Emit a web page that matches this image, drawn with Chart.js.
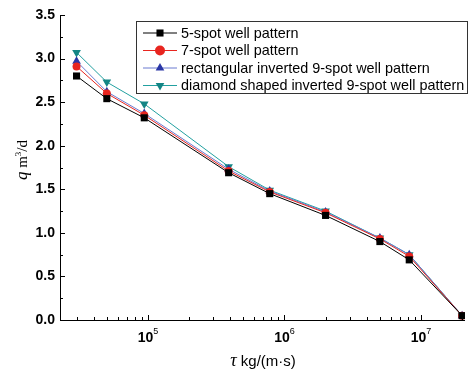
<!DOCTYPE html>
<html>
<head>
<meta charset="utf-8">
<script src="https://cdn.jsdelivr.net/npm/chart.js@4.4.1/dist/chart.umd.min.js"></script>
<style>
  html, body { margin: 0; padding: 0; background: #fff; }
  #wrap { width: 470px; height: 377px; position: relative; }
</style>
</head>
<body>
<div id="wrap"><canvas id="c" width="470" height="377"></canvas></div>
<script>
// data
const tau = [3.0e4, 5.0e4, 9.4e4, 3.9e5, 7.8e5, 2.0e6, 5.0e6, 8.2e6, 2.0e7];
const fiveSpot = [2.80, 2.54, 2.32, 1.69, 1.45, 1.20, 0.90, 0.69, 0.05];
const sevenSpot = [2.91, 2.60, 2.35, 1.71, 1.47, 1.23, 0.93, 0.73, 0.05];
const rectNine = [2.97, 2.62, 2.37, 1.73, 1.48, 1.24, 0.94, 0.75, 0.05];
const diamondNine = [3.07, 2.73, 2.48, 1.76, 1.49, 1.25, 0.94, 0.75, 0.05];
const seriesNames = [
  '5-spot well pattern',
  '7-spot well pattern',
  'rectangular inverted 9-spot well pattern',
  'diamond shaped inverted 9-spot well pattern'
];
const yTicks = [0, 0.5, 1.0, 1.5, 2.0, 2.5, 3.0, 3.5];
const xMajor = [1e5, 1e6, 1e7];

function pts(vals) {
  return vals.map((v, i) => ({ x: tau[i], y: v }));
}

const lineCol = ['#000000', '#e8251f', '#6b7bd0', '#22a0a0'];
const markCol = ['#000000', '#e8251f', '#2a36a6', '#138585'];
const styles = ['rect', 'circle', 'triangle', 'triangle'];
const rots = [0, 0, 0, 180];
const allVals = [fiveSpot, sevenSpot, rectNine, diamondNine];

const datasets = allVals.map((vals, i) => ({
  label: seriesNames[i],
  data: pts(vals),
  showLine: true,
  borderColor: lineCol[i],
  borderWidth: 1,
  backgroundColor: markCol[i],
  pointBackgroundColor: markCol[i],
  pointBorderColor: markCol[i],
  pointBorderWidth: 0,
  pointStyle: styles[i],
  pointRotation: rots[i],
  pointRadius: i === 1 ? 4 : 5,
  tension: 0
}));

// 自定义坐标轴、刻度、图例
const decor = {
  id: 'decor',
  afterDraw(chart) {
    const ctx = chart.ctx;
    const a = chart.chartArea;
    const xs = chart.scales.x, ys = chart.scales.y;
    ctx.save();
    ctx.strokeStyle = '#000';
    ctx.lineWidth = 1;
    // axes lines
    ctx.beginPath();
    ctx.moveTo(a.left + 0.5, a.top);
    ctx.lineTo(a.left + 0.5, a.bottom + 0.5);
    ctx.lineTo(a.right, a.bottom + 0.5);
    ctx.stroke();
    // y ticks (inward)
    for (let v = 0; v <= 3.5001; v += 0.25) {
      const y = Math.round(ys.getPixelForValue(v)) + 0.5;
      const major = Math.abs(v * 2 - Math.round(v * 2)) < 1e-6;
      ctx.beginPath();
      ctx.moveTo(a.left, y);
      ctx.lineTo(a.left + (major ? 5 : 3), y);
      ctx.stroke();
    }
    // x ticks (inward)
    for (let e = 4; e <= 7; e++) {
      for (let m = 1; m <= 9; m++) {
        const v = m * Math.pow(10, e);
        if (v < xs.min || v > xs.max) continue;
        const x = Math.round(xs.getPixelForValue(v)) + 0.5;
        ctx.beginPath();
        ctx.moveTo(x, a.bottom);
        ctx.lineTo(x, a.bottom - (m === 1 ? 5 : 3));
        ctx.stroke();
      }
    }
    // y labels
    ctx.fillStyle = '#000';
    ctx.font = 'bold 14px "Liberation Sans", Arial, sans-serif';
    ctx.textAlign = 'right';
    ctx.textBaseline = 'middle';
    yTicks.forEach(v => {
      ctx.fillText(v.toFixed(1), a.left - 5, ys.getPixelForValue(v));
    });
    // x labels 10^n
    xMajor.forEach(v => {
      const x = xs.getPixelForValue(v);
      const n = String(Math.round(Math.log10(v)));
      ctx.font = 'bold 14px "Liberation Sans", Arial, sans-serif';
      const w1 = ctx.measureText('10').width;
      ctx.font = '9px "Liberation Sans", Arial, sans-serif';
      const w2 = ctx.measureText(n).width;
      const x0 = x - (w1 + w2) / 2;
      ctx.textAlign = 'left';
      ctx.textBaseline = 'alphabetic';
      ctx.font = 'bold 14px "Liberation Sans", Arial, sans-serif';
      ctx.fillText('10', x0, a.bottom + 22);
      ctx.font = '9px "Liberation Sans", Arial, sans-serif';
      ctx.fillText(n, x0 + w1, a.bottom + 14);
    });
    // x title
    const tx = 263, ty = a.bottom + 46;
    ctx.font = 'italic 18px "Liberation Serif", "Times New Roman", serif';
    const wt = ctx.measureText('\u03c4').width;
    ctx.font = '15px "Liberation Sans", Arial, sans-serif';
    const rest = ' kg/(m\u00b7s)';
    const wr = ctx.measureText(rest).width;
    let sx = tx - (wt + wr) / 2;
    ctx.font = 'italic 18px "Liberation Serif", "Times New Roman", serif';
    ctx.fillText('\u03c4', sx, ty);
    ctx.font = '15px "Liberation Sans", Arial, sans-serif';
    ctx.fillText(rest, sx + wt, ty);
    // y title (rotated)
    ctx.save();
    ctx.translate(27, 160);
    ctx.rotate(-Math.PI / 2);
    ctx.font = 'italic 17px "Liberation Serif", "Times New Roman", serif';
    const wq = ctx.measureText('q').width;
    ctx.font = '15px "Liberation Serif", "Times New Roman", serif';
    const wm = ctx.measureText(' m').width;
    ctx.font = '9px "Liberation Serif", serif';
    const w3 = ctx.measureText('3').width;
    ctx.font = '15px "Liberation Serif", "Times New Roman", serif';
    const wd = ctx.measureText('/d').width;
    let qx = -(wq + wm + w3 + wd) / 2;
    ctx.textAlign = 'left';
    ctx.font = 'italic 17px "Liberation Serif", "Times New Roman", serif';
    ctx.fillText('q', qx, 0); qx += wq;
    ctx.font = '15px "Liberation Serif", "Times New Roman", serif';
    ctx.fillText(' m', qx, 0); qx += wm;
    ctx.font = '9px "Liberation Serif", serif';
    ctx.fillText('3', qx, -6); qx += w3;
    ctx.font = '15px "Liberation Serif", "Times New Roman", serif';
    ctx.fillText('/d', qx, 0);
    ctx.restore();
    // legend box
    const lx = 136, ly = 21, lw = 331, lh = 72;
    ctx.fillStyle = '#fff';
    ctx.fillRect(lx, ly, lw, lh);
    ctx.strokeStyle = '#333';
    ctx.strokeRect(lx + 0.5, ly + 0.5, lw, lh);
    ctx.font = '14.4px "Liberation Sans", Arial, sans-serif';
    ctx.textBaseline = 'middle';
    chart.data.datasets.forEach((ds, i) => {
      const ry = ly + 12 + i * 17.5;
      ctx.strokeStyle = ds.borderColor;
      ctx.beginPath();
      ctx.moveTo(143, ry);
      ctx.lineTo(177, ry);
      ctx.stroke();
      ctx.fillStyle = ds.pointBackgroundColor;
      Chart.helpers.drawPoint(ctx, {
        pointStyle: ds.pointStyle, rotation: ds.pointRotation,
        radius: 5, borderWidth: 0
      }, 160, ry);
      ctx.fillStyle = '#000';
      ctx.textAlign = 'left';
      ctx.fillText(ds.label, 181, ry + 1);
    });
    ctx.restore();
  }
};

new Chart(document.getElementById('c'), {
  type: 'scatter',
  data: { datasets: datasets },
  options: {
    responsive: false,
    animation: false,
    layout: { padding: { left: 0, top: 15, right: 4, bottom: 0 } },
    plugins: { legend: { display: false }, tooltip: { enabled: false } },
    scales: {
      x: {
        type: 'logarithmic',
        min: 2.27e4,
        max: 2.1e7,
        grid: { display: false, drawTicks: false },
        border: { display: false },
        ticks: { display: false },
        afterFit(s) { s.height = 57; }
      },
      y: {
        min: 0,
        max: 3.5,
        grid: { display: false, drawTicks: false },
        border: { display: false },
        ticks: { display: false, stepSize: 0.5 },
        afterFit(s) { s.width = 60; }
      }
    }
  },
  plugins: [decor]
});
</script>
</body>
</html>
